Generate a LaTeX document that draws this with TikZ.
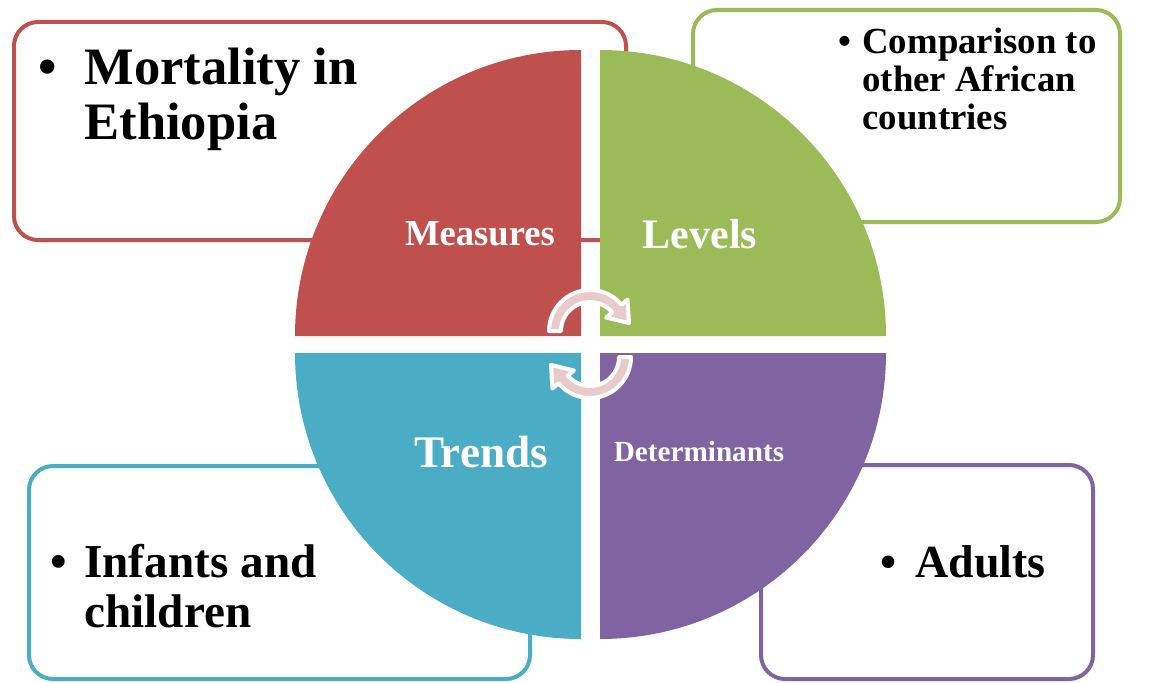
\documentclass[tikz,border=0pt]{standalone}
\usepackage{fontspec}
\setmainfont{Liberation Serif}
\definecolor{mred}{HTML}{C0504D}
\definecolor{mgreen}{HTML}{9BBB59}
\definecolor{mblue}{HTML}{4BACC6}
\definecolor{mpurple}{HTML}{8064A2}
\definecolor{mpink}{RGB}{232,202,202}
\newcommand{\bulletlist}[2]{\begin{tabular}[t]{@{}p{#1}@{}l@{}}•&#2\end{tabular}}
\tikzset{
  infobox/.style={draw=#1, line width=2pt, rounded corners=12pt, fill=white},
  quadrant/.style={fill=#1, draw=none},
  qlabel/.style={text=white, inner sep=0pt},
  cyclearrow/.style={fill=mpink, draw=white, line width=2pt, line join=round},
  bullettext/.style={anchor=base west, inner sep=0pt}
}
\begin{document}
\begin{tikzpicture}[x=0.5pt, y=0.5pt]
\useasboundingbox (0,0) rectangle (1156,682);
% boxes behind the circle
\draw[infobox=mred] (14,442) rectangle (626,660);
\draw[infobox=mgreen] (693,460) rectangle (1120,672);
\draw[infobox=mblue] (29,3) rectangle (530,216);
\draw[infobox=mpurple] (761,3) rectangle (1093,217);
% the four quarters
\fill[quadrant=mred] (581,346) -- (295,346) arc[start angle=180, end angle=90, radius=286] -- cycle;
\fill[quadrant=mgreen] (600,346) -- (600,632) arc[start angle=90, end angle=0, radius=286] -- cycle;
\fill[quadrant=mblue] (581,329) -- (581,43) arc[start angle=270, end angle=180, radius=286] -- cycle;
\fill[quadrant=mpurple] (600,329) -- (886,329) arc[start angle=0, end angle=-90, radius=286] -- cycle;
% centre arrows
\coordinate (U) at (590,351);
\coordinate (L) at (590,325);
\draw[cyclearrow] ([shift={(180:41)}]U) arc[start angle=180, end angle=40, radius=41]
  -- ([shift={(40:49)}]U) -- ([shift={(39,7.9)}]U) -- ([shift={(40:21)}]U)
  -- ([shift={(40:29)}]U) arc[start angle=40, end angle=180, radius=29] -- cycle;
\draw[cyclearrow] ([shift={(0:41)}]L) arc[start angle=0, end angle=-140, radius=41]
  -- ([shift={(-140:49)}]L) -- ([shift={(-39,-7.9)}]L) -- ([shift={(-140:21)}]L)
  -- ([shift={(-140:29)}]L) arc[start angle=-140, end angle=0, radius=29] -- cycle;
% labels
\node[qlabel, font=\bfseries\fontsize{18.3}{20}\selectfont] (measures) at (480,448) {Measures};
\node[qlabel, font=\bfseries\fontsize{21}{23}\selectfont] (levels) at (700,448) {Levels};
\node[qlabel, font=\bfseries\fontsize{22.6}{24}\selectfont] (trends) at (481,230) {Trends};
\node[qlabel, font=\bfseries\fontsize{14.6}{16}\selectfont] (determinants) at (699,230) {Determinants};
\node[bullettext, font=\bfseries\fontsize{26.3}{27.5}\selectfont] (mortality) at (38,597) {\bulletlist{23pt}{Mortality in\\&Ethiopia}};
\node[bullettext, font=\bfseries\fontsize{18.4}{19.2}\selectfont] (comparison) at (838,629) {\bulletlist{12pt}{Comparison to\\&other African\\&countries}};
\node[bullettext, font=\bfseries\fontsize{23.6}{25}\selectfont] (infants) at (50,105) {\bulletlist{17pt}{Infants and\\&children}};
\node[bullettext, font=\bfseries\fontsize{23}{24}\selectfont] (adults) at (880,105) {\bulletlist{17.5pt}{Adults}};
\end{tikzpicture}
\end{document}
